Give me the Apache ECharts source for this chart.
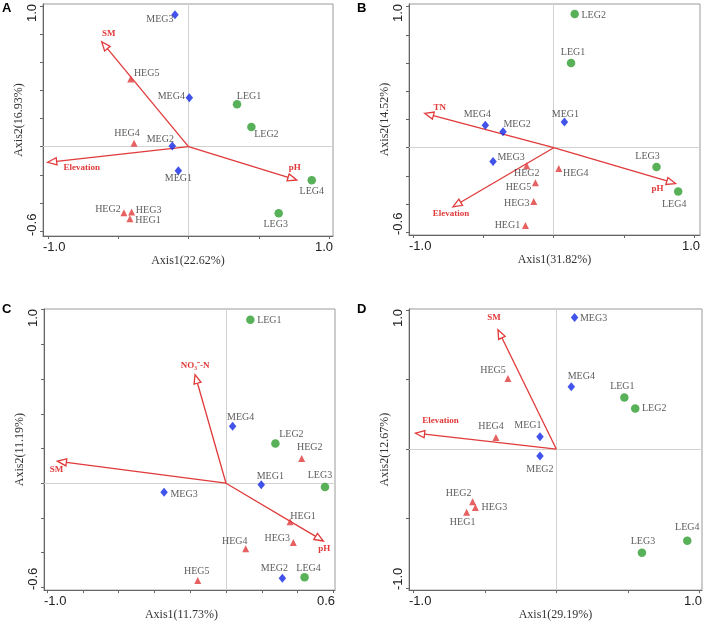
<!DOCTYPE html>
<html><head><meta charset="utf-8">
<script src="https://cdn.jsdelivr.net/npm/echarts@6/dist/echarts.min.js"></script>
<style>html,body{margin:0;padding:0;background:#fff}#c{width:708px;height:622px}</style>
</head><body><div id="c"></div>
<script>
// ---------------- DATA ----------------
const HEG_NAMES = ['HEG1','HEG2','HEG3','HEG4','HEG5'];
const MEG_NAMES = ['MEG1','MEG2','MEG3','MEG4'];
const LEG_NAMES = ['LEG1','LEG2','LEG3','LEG4'];

// Panel A
const A_HEG = [[-0.416,-0.512],[-0.459,-0.469],[-0.404,-0.464],[-0.387,0.024],[-0.411,0.481]];
const A_MEG = [[-0.072,-0.171],[-0.115,0.005],[-0.096,0.938],[0.006,0.348]];
const A_LEG = [[0.345,0.301],[0.447,0.140],[0.641,-0.474],[0.876,-0.239]];
const A_ENV_NAMES = ['SM','Elevation','pH'];
const A_ENV = [[-0.617,0.746],[-1.001,-0.111],[0.769,-0.237]];
const A_AXIS_NAMES = ['Axis1(22.62%)','Axis2(16.93%)'];

// Panel B
const B_HEG = [[-0.201,-0.552],[-0.192,-0.128],[-0.142,-0.382],[0.036,-0.147],[-0.130,-0.249]];
const B_MEG = [[0.076,0.182],[-0.360,0.114],[-0.431,-0.097],[-0.486,0.159]];
const B_LEG = [[0.123,0.600],[0.149,0.948],[0.730,-0.137],[0.884,-0.310]];
const B_ENV_NAMES = ['TN','Elevation','pH'];
const B_ENV = [[-0.917,0.244],[-0.716,-0.419],[0.865,-0.254]];
const B_AXIS_NAMES = ['Axis1(31.82%)','Axis2(14.52%)'];

// Panel C
const C_HEG = [[0.358,-0.222],[0.423,0.142],[0.376,-0.341],[0.110,-0.378],[-0.158,-0.561]];
const C_MEG = [[0.197,-0.009],[0.315,-0.547],[-0.346,-0.052],[0.037,0.328]];
const C_LEG = [[0.136,0.942],[0.276,0.229],[0.553,-0.022],[0.439,-0.542]];
const C_ENV_NAMES = ['NO\u2083\u207B-N','SM','pH'];
const C_ENV = [[-0.173,0.626],[-0.942,0.127],[0.544,-0.333]];
const C_AXIS_NAMES = ['Axis1(11.73%)','Axis2(11.19%)'];

// Panel D
const D_HEG = [[-0.627,-0.455],[-0.585,-0.378],[-0.566,-0.420],[-0.422,0.084],[-0.338,0.508]];
const D_MEG = [[-0.114,0.089],[-0.114,-0.049],[0.128,0.946],[0.105,0.448]];
const D_LEG = [[0.476,0.371],[0.552,0.291],[0.599,-0.746],[0.916,-0.660]];
const D_ENV_NAMES = ['SM','Elevation'];
const D_ENV = [[-0.408,0.858],[-0.984,0.114]];
const D_AXIS_NAMES = ['Axis1(29.19%)','Axis2(12.67%)'];

// Ticks and end labels
const TICKS_HALF = [-1,-0.5,0,0.5,1];
const TICKS_Y_06 = [-0.6,-0.4,-0.2,0,0.2,0.4,0.6,0.8,1.0];
const TICKS_X_C = [-1,-0.8,-0.6,-0.4,-0.2,0,0.2,0.4,0.6];
const END_LABELS_1 = ['-1.0','1.0'];
const END_LABELS_06Y = ['-0.6','1.0'];
const END_LABELS_06X = ['-1.0','0.6'];
const PANEL_LETTERS = ['A','B','C','D'];

// ---------------- STYLE / LAYOUT ----------------
const RED = '#e03a3a', BLUE = '#1228e6', GREEN = '#2e9e2e';
const SERIF = '"Liberation Serif","Times New Roman",serif';
const SANS = '"Liberation Sans",Arial,sans-serif';

const LABEL_OFF = {
  A: {HEG1:[18,2],HEG2:[-16,-3],HEG3:[17,-2],HEG4:[-7,-10],HEG5:[16,-6],
      MEG1:[0,8],MEG2:[-12,-7],MEG3:[-15,5],MEG4:[-18,-1],
      LEG1:[12,-8],LEG2:[15,7],LEG3:[-3,11],LEG4:[0,11]},
  B: {HEG1:[-18,0],HEG2:[0,8],HEG3:[-17,2],HEG4:[17,5],HEG5:[-17,5],
      MEG1:[1,-8],MEG2:[14,-7],MEG3:[18,-4],MEG4:[-8,-11],
      LEG1:[2,-11],LEG2:[19,1],LEG3:[-9,-11],LEG4:[-4,13]},
  C: {HEG1:[13,-5],HEG2:[8,-11],HEG3:[-16,-4],HEG4:[-11,-7],HEG5:[-1,-9],
      MEG1:[9,-8],MEG2:[-8,-10],MEG3:[20,2],MEG4:[8,-9],
      LEG1:[19,1],LEG2:[16,-9],LEG3:[-5,-12],LEG4:[4,-9]},
  D: {HEG1:[-4,10],HEG2:[-14,-8],HEG3:[19,0],HEG4:[-5,-11],HEG5:[-15,-8],
      MEG1:[-12,-11],MEG2:[0,13],MEG3:[19,1],MEG4:[10,-10],
      LEG1:[-2,-11],LEG2:[19,0],LEG3:[1,-11],LEG4:[0,-13]}
};
const ENV_OFF = {
  A: [[7,-8],[34,5],[-2,-12]],
  B: [[15,-6],[-2,7],[-18,5]],
  C: [[0,-9],[-1,8],[1,8]],
  D: [[-4,-12],[25,-13]]
};

const PANELS = [
  {key:'A', heg:A_HEG, meg:A_MEG, leg:A_LEG, envN:A_ENV_NAMES, env:A_ENV, names:A_AXIS_NAMES,
   grid:{left:43,top:4,width:290,height:232}, x:[-1.034,1.027], y:[-0.635,1.014],
   xt:TICKS_HALF, yt:TICKS_Y_06, xl:END_LABELS_1, yl:END_LABELS_06Y, letter:[2,2], namePad:0},
  {key:'B', heg:B_HEG, meg:B_MEG, leg:B_LEG, envN:B_ENV_NAMES, env:B_ENV, names:B_AXIS_NAMES,
   grid:{left:409,top:4,width:291,height:231}, x:[-1.028,1.039], y:[-0.619,1.019],
   xt:TICKS_HALF, yt:TICKS_Y_06, xl:END_LABELS_1, yl:END_LABELS_06Y, letter:[357,2], namePad:0},
  {key:'C', heg:C_HEG, meg:C_MEG, leg:C_LEG, envN:C_ENV_NAMES, env:C_ENV, names:C_AXIS_NAMES,
   grid:{left:44,top:309,width:291,height:290}, x:[-1.017,0.609], y:[-0.616,1.004],
   xt:TICKS_X_C, yt:TICKS_Y_06, xl:END_LABELS_06X, yl:END_LABELS_06Y, letter:[2,303], namePad:16},
  {key:'D', heg:D_HEG, meg:D_MEG, leg:D_LEG, envN:D_ENV_NAMES, env:D_ENV, names:D_AXIS_NAMES,
   grid:{left:409,top:309,width:293,height:289}, x:[-1.030,1.019], y:[-1.014,1.007],
   xt:TICKS_HALF, yt:TICKS_HALF, xl:END_LABELS_1, yl:END_LABELS_1, letter:[357,303], namePad:0}
];

function arrowRenderer(names, offs) {
  return function (params, api) {
    const o = api.coord([0, 0]);
    const t = api.coord([api.value(0), api.value(1)]);
    const dx = t[0] - o[0], dy = t[1] - o[1];
    const L = Math.hypot(dx, dy), ux = dx / L, uy = dy / L;
    const hl = 9, hw = 3.6;
    const bx = t[0] - ux * hl, by = t[1] - uy * hl;
    const px = -uy, py = ux;
    const off = offs[params.dataIndex];
    return {
      type: 'group',
      children: [
        {type:'line', shape:{x1:o[0],y1:o[1],x2:bx,y2:by}, style:{stroke:RED, lineWidth:1.3}},
        {type:'polygon', shape:{points:[[t[0],t[1]],[bx+px*hw,by+py*hw],[bx-px*hw,by-py*hw]]},
         style:{fill:'#fff', stroke:RED, lineWidth:1.3}},
        {type:'text', x:t[0]+off[0], y:t[1]+off[1],
         style:{text:names[params.dataIndex], fill:RED, font:'bold 9px ' + SERIF,
                align:'center', verticalAlign:'middle'}}
      ]
    };
  };
}

const option = {animation:false, backgroundColor:'#fff', title:[], grid:[], xAxis:[], yAxis:[], series:[]};

PANELS.forEach((p, i) => {
  option.title.push({text: PANEL_LETTERS[i], left:p.letter[0], top:p.letter[1], padding:0,
    textStyle:{fontFamily:SANS, fontWeight:'bold', fontSize:13, color:'#000'}});
  option.grid.push(Object.assign({show:true, borderColor:'#9a9a9a', borderWidth:1, backgroundColor:'transparent'}, p.grid));
  const axisLine = {show:true, onZero:false, lineStyle:{color:'#666', width:1}};
  option.xAxis.push({
    gridIndex:i, type:'value', min:p.x[0], max:p.x[1], position:'bottom',
    axisLine, splitLine:{show:false},
    axisTick:{show:true, inside:false, length:3, customValues:p.xt, lineStyle:{color:'#666'}},
    axisLabel:{show:true, customValues:[p.x[0], p.x[1]], formatter:(v, idx) => p.xl[v < 0 ? 0 : 1],
      alignMinLabel:'left', alignMaxLabel:'right', margin:5, fontSize:13, color:'#222', fontFamily:SANS},
    name:p.names[0], nameLocation:'middle', nameGap:6,
    nameTextStyle:{fontFamily:SERIF, fontSize:12, color:'#333', verticalAlign:'top', padding:[0,p.namePad,0,0]}
  });
  option.yAxis.push({
    gridIndex:i, type:'value', min:p.y[0], max:p.y[1], position:'left',
    axisLine, splitLine:{show:false},
    axisTick:{show:true, inside:false, length:3, customValues:p.yt, lineStyle:{color:'#666'}},
    axisLabel:{show:true, customValues:[p.y[0], p.y[1]], formatter:(v, idx) => p.yl[v < 0 ? 0 : 1],
      rotate:90, alignMinLabel:'left', alignMaxLabel:'right', margin:4, fontSize:13, color:'#222', fontFamily:SANS},
    name:p.names[1], nameLocation:'middle', nameGap:5,
    nameTextStyle:{fontFamily:SERIF, fontSize:12, color:'#333'}
  });
  const off = LABEL_OFF[p.key];
  const mk = (names, vals) => names.map((n, j) => ({name:n, value:vals[j], label:{offset:off[n]}}));
  const baseLabel = {show:true, position:'inside', formatter:'{b}', color:'#333', fontFamily:SERIF, fontSize:10};
  option.series.push({
    type:'custom', xAxisIndex:i, yAxisIndex:i, z:2, silent:true,
    data:p.env.map((v, j) => ({name:p.envN[j], value:v})),
    encode:{x:0, y:1},
    renderItem: arrowRenderer(p.envN, ENV_OFF[p.key])
  });
  option.series.push({
    type:'scatter', xAxisIndex:i, yAxisIndex:i, z:3, symbol:'triangle', symbolSize:7,
    itemStyle:{color:RED}, label:baseLabel, data:mk(HEG_NAMES, p.heg),
    markLine:{silent:true, symbol:['none','none'], label:{show:false}, z:1,
      lineStyle:{color:'#d2d2d2', type:'solid', width:1}, data:[{xAxis:0},{yAxis:0}]}
  });
  option.series.push({
    type:'scatter', xAxisIndex:i, yAxisIndex:i, z:3, symbol:'diamond', symbolSize:[7.5,9],
    itemStyle:{color:BLUE}, label:baseLabel, data:mk(MEG_NAMES, p.meg)
  });
  option.series.push({
    type:'scatter', xAxisIndex:i, yAxisIndex:i, z:3, symbol:'circle', symbolSize:8.5,
    itemStyle:{color:GREEN}, label:baseLabel, data:mk(LEG_NAMES, p.leg)
  });
});

const chart = echarts.init(document.getElementById('c'), null, {renderer:'canvas'});
chart.setOption(option);
</script>
</body></html>
